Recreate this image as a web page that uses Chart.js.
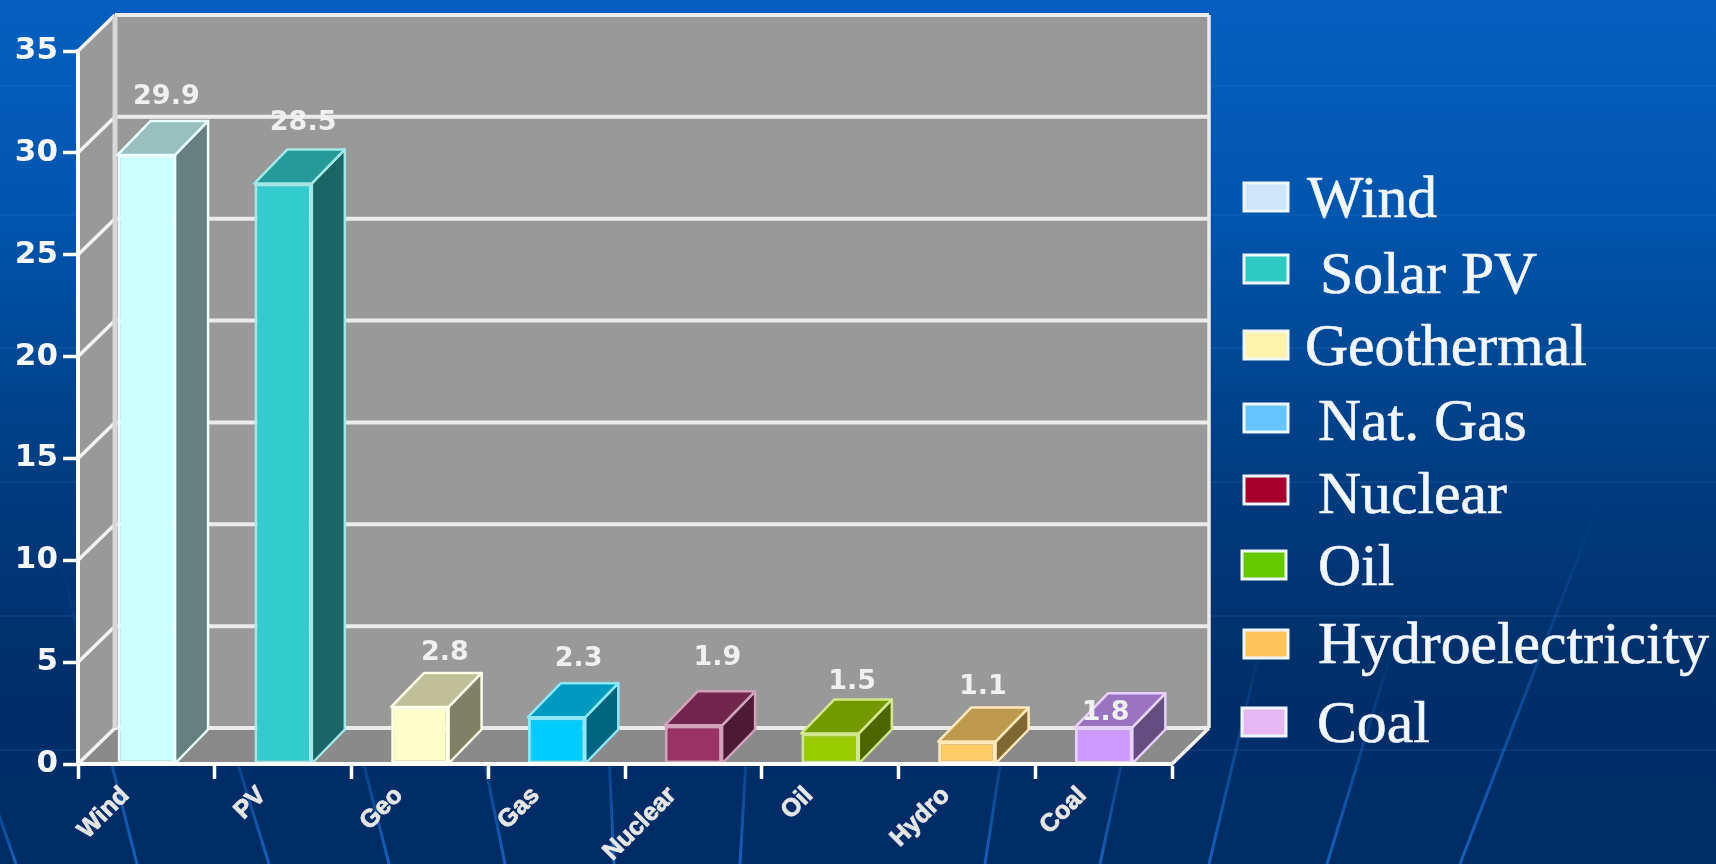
<!DOCTYPE html>
<html>
<head>
<meta charset="utf-8">
<style>
  html, body { margin: 0; padding: 0; background: #002c66; overflow: hidden; }
  canvas { display: block; }
</style>
</head>
<body>
<canvas id="shareChart" width="1716" height="864"></canvas>

<script src="https://cdn.jsdelivr.net/npm/chart.js"></script>
<script>
// chart data
const categories = ["Wind", "PV", "Geo", "Gas", "Nuclear", "Oil", "Hydro", "Coal"];
const growthValues = [29.9, 28.5, 2.8, 2.3, 1.9, 1.5, 1.1, 1.8];
const barColors = ["#ccffff", "#33cccc", "#ffffcc", "#00ccff", "#993366", "#99cc00", "#ffcc66", "#cc99ff"];

const legendNames = ["Wind", "Solar PV", "Geothermal", "Nat. Gas", "Nuclear", "Oil", "Hydroelectricity", "Coal"];
const legendColors = ["#cfe6fa", "#2ec9c0", "#fff2ac", "#66c4ff", "#a8002c", "#66c800", "#ffc35c", "#e6b8f2"];

// legend rows are hand placed, the entries are not evenly indented
const legendBoxX = [1243, 1243, 1243, 1243, 1243, 1241, 1243, 1241];
const legendBoxY = [182, 254, 330, 403, 475, 550, 629, 707];
const legendTextX = [1307, 1320, 1305, 1318, 1318, 1318, 1318, 1317];
const legendBaseline = [217, 293, 365, 440, 513, 585, 663, 742];

// value labels sit loosely above each column
const labelShiftX = [20, 20, 25, 22, 24, 22, 16, 2];
const labelLift = [58, 60, 54, 58, 67, 51, 55, 14];

// depth of the box and of the columns
const wallDepth = { x: 37, y: 36 };
const barDepth = { x: 33, y: 34 };

// faint lines in the slide backdrop: [x bottom, x top, y top]
const streaks = [
  [16, -20, 760], [137, 60, 560], [269, 215, 690], [389, 345, 690], [505, 470, 690],
  [614, 606, 690], [740, 750, 690], [985, 1010, 700], [1100, 1135, 700],
  [1209, 1262, 640], [1327, 1395, 640], [1460, 1600, 500]
];
const backdropRows = [86, 215, 348, 482, 616, 750];

function mix(hex, target, amount) {
  const n = parseInt(hex.slice(1), 16);
  const c = [n >> 16, (n >> 8) & 255, n & 255].map(v => Math.round(v + (target - v) * amount));
  return `rgb(${c[0]},${c[1]},${c[2]})`;
}

function poly(ctx, pts, fill, stroke, width) {
  ctx.beginPath();
  pts.forEach((p, i) => i ? ctx.lineTo(p[0], p[1]) : ctx.moveTo(p[0], p[1]));
  ctx.closePath();
  if (fill) { ctx.fillStyle = fill; ctx.fill(); }
  if (stroke) { ctx.strokeStyle = stroke; ctx.lineWidth = width; ctx.lineJoin = "round"; ctx.stroke(); }
}

function line(ctx, x1, y1, x2, y2, color, width) {
  ctx.beginPath();
  ctx.moveTo(x1, y1);
  ctx.lineTo(x2, y2);
  ctx.strokeStyle = color;
  ctx.lineWidth = width;
  ctx.stroke();
}

// gradient, backdrop lines and the open grey box behind the columns
const boxPlugin = {
  id: "box",
  beforeDraw(chart) {
    const { ctx, chartArea: a, scales: { y } } = chart;
    ctx.save();
    const bg = ctx.createLinearGradient(0, 0, 0, chart.height);
    bg.addColorStop(0, "#065fc0");
    bg.addColorStop(0.25, "#0055ad");
    bg.addColorStop(0.55, "#003c80");
    bg.addColorStop(0.8, "#002e68");
    bg.addColorStop(1, "#002c66");
    ctx.fillStyle = bg;
    ctx.fillRect(0, 0, chart.width, chart.height);

    backdropRows.forEach(r => line(ctx, 0, r, chart.width, r, "rgba(70,140,225,0.12)", 2));
    streaks.forEach(s => {
      const g = ctx.createLinearGradient(0, 864, 0, s[2]);
      g.addColorStop(0, "rgba(25,105,200,0.85)");
      g.addColorStop(1, "rgba(25,105,200,0)");
      line(ctx, s[0], 864, s[1], s[2], g, 3);
    });

    const dx = wallDepth.x, dy = wallDepth.y;
    const top = y.getPixelForValue(35), bottom = y.getPixelForValue(0);
    poly(ctx, [[a.left + dx, top - dy], [a.right + dx, top - dy], [a.right + dx, bottom - dy], [a.left + dx, bottom - dy]], "#999999");
    poly(ctx, [[a.left, top], [a.left + dx, top - dy], [a.left + dx, bottom - dy], [a.left, bottom]], "#999999");
    poly(ctx, [[a.left, bottom], [a.left + dx, bottom - dy], [a.right + dx, bottom - dy], [a.right, bottom]], "#8a8a8a");

    // grid lines run up the side wall and across the back
    y.ticks.forEach(t => {
      const py = y.getPixelForValue(t.value);
      line(ctx, a.left, py, a.left + dx, py - dy, "#f2f2f2", 3.5);
      line(ctx, a.left + dx, py - dy, a.right + dx, py - dy, "#ececec", 4);
    });
    line(ctx, a.left + dx, top - dy, a.left + dx, bottom - dy, "#d8d8d8", 5);
    line(ctx, a.right + dx, top - dy, a.right + dx, bottom - dy, "#ececec", 3.5);
    line(ctx, a.right, bottom, a.right + dx, bottom - dy, "#f2f2f2", 3.5);
    ctx.restore();
  }
};

// side and top faces of the columns, taken from the bar elements
const extrudePlugin = {
  id: "extrude",
  beforeDatasetsDraw(chart) {
    const { ctx } = chart;
    const bars = chart.getDatasetMeta(0).data;
    ctx.save();
    bars.forEach((bar, i) => {
      const l = bar.x - bar.width / 2, r = bar.x + bar.width / 2;
      const t = bar.y, b = bar.base;
      const dx = barDepth.x, dy = barDepth.y;
      const edge = mix(barColors[i], 255, 0.55);
      poly(ctx, [[r, t], [r + dx, t - dy], [r + dx, b - dy], [r, b]], mix(barColors[i], 0, 0.5), edge, 2.5);
      poly(ctx, [[l, t], [l + dx, t - dy], [r + dx, t - dy], [r, t]], mix(barColors[i], 0, 0.25), edge, 2.5);
    });
    ctx.restore();
  }
};

// value labels and the legend on the right
const textPlugin = {
  id: "texts",
  afterDatasetsDraw(chart) {
    const { ctx } = chart;
    const bars = chart.getDatasetMeta(0).data;
    ctx.save();
    ctx.font = 'bold 27px "DejaVu Sans"';
    ctx.fillStyle = "#f0f0f0";
    ctx.textAlign = "center";
    ctx.textBaseline = "middle";
    bars.forEach((bar, i) => {
      ctx.fillText(growthValues[i].toFixed(1), bar.x + labelShiftX[i], bar.y - labelLift[i]);
    });

    ctx.font = '59.7px "Liberation Serif"';
    ctx.textAlign = "left";
    ctx.textBaseline = "alphabetic";
    legendNames.forEach((name, i) => {
      ctx.fillStyle = legendColors[i];
      ctx.fillRect(legendBoxX[i], legendBoxY[i], 46, 30);
      ctx.strokeStyle = "#eef6ff";
      ctx.lineWidth = 3;
      ctx.strokeRect(legendBoxX[i] + 1, legendBoxY[i] + 1, 44, 28);
      ctx.fillStyle = "#f2f6ff";
      ctx.fillText(name, legendTextX[i], legendBaseline[i]);
      ctx.lineWidth = 0.6;
      ctx.strokeText(name, legendTextX[i], legendBaseline[i]);
    });
    ctx.restore();
  }
};

new Chart(document.getElementById("shareChart"), {
  type: "bar",
  data: {
    labels: categories,
    datasets: [{
      data: growthValues,
      backgroundColor: barColors,
      borderColor: barColors.map(c => mix(c, 255, 0.55)),
      borderWidth: 3,
      borderSkipped: false,
      barPercentage: 0.42,
      categoryPercentage: 1
    }]
  },
  options: {
    responsive: false,
    animation: false,
    layout: { padding: { top: 51, right: 544, left: 0, bottom: 0 } },
    plugins: { legend: { display: false }, tooltip: { enabled: false } },
    scales: {
      x: {
        afterFit: s => { s.height = 100; },
        grid: { drawOnChartArea: false, tickLength: 15, tickColor: "#ffffff", tickWidth: 3.5 },
        border: { color: "#ffffff", width: 4, z: 1 },
        ticks: {
          color: "#e6e6e6",
          font: { family: "Liberation Sans", size: 25, weight: "bold" },
          textStrokeColor: "#e6e6e6",
          textStrokeWidth: 0.8,
          minRotation: 45,
          maxRotation: 45,
          padding: 2,
          labelOffset: -21
        }
      },
      y: {
        min: 0,
        max: 35,
        afterFit: s => { s.width = 78; },
        grid: { drawOnChartArea: false, tickLength: 15, tickColor: "#ffffff", tickWidth: 3.5 },
        border: { color: "#ffffff", width: 4, z: 1 },
        ticks: {
          stepSize: 5,
          color: "#f4f7ff",
          padding: 5,
          font: { family: "DejaVu Sans", size: 31, weight: "bold" }
        }
      }
    }
  },
  plugins: [boxPlugin, extrudePlugin, textPlugin]
});
</script>
</body>
</html>
